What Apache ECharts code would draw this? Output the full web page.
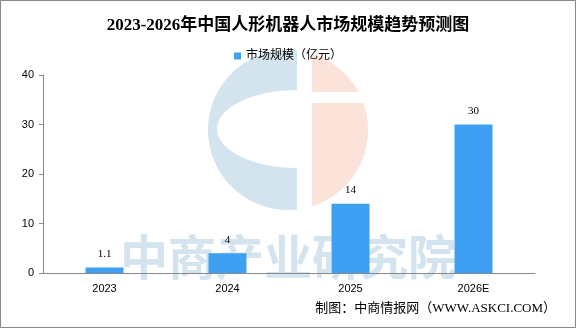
<!DOCTYPE html>
<html>
<head>
<meta charset="utf-8">
<script src="https://cdn.jsdelivr.net/npm/echarts@6/dist/echarts.min.js"></script>
<style>
  body { margin: 0; background: #fff; }
  #main { width: 576px; height: 328px; }
</style>
</head>
<body>
<div id="main"></div>
<script>
var years = ['2023', '2024', '2025', '2026E'];
var marketSize = [1.1, 4, 14, 30];
var seriesName = '市场规模（亿元）';

var chart = echarts.init(document.getElementById('main'));

var cjk = '"Liberation Serif", "Noto Sans CJK SC", serif';
var sans = '"Liberation Sans", "Noto Sans CJK SC", sans-serif';

// watermark logo: part of a circle cut by a vertical line
function circlePart(cx, cy, r, cutX, side) {
    var pts = [];
    var a0 = Math.acos((cutX - cx) / r);
    // side 1 = right part, -1 = left part
    var start = side > 0 ? -a0 : a0;
    var end = side > 0 ? a0 : 2 * Math.PI - a0;
    for (var i = 0; i <= 60; i++) {
        var a = start + (end - start) * i / 60;
        pts.push([cx + r * Math.cos(a), cy + r * Math.sin(a)]);
    }
    return pts;
}

var option = {
    backgroundColor: '#fff',
    animation: false,
    title: {
        text: '2023-2026年中国人形机器人市场规模趋势预测图',
        left: 'center',
        top: 12,
        textStyle: { fontSize: 17, fontWeight: 'bold', color: '#000', fontFamily: cjk }
    },
    legend: {
        data: [seriesName],
        top: 45,
        left: 'center',
        itemWidth: 7,
        itemHeight: 7,
        itemGap: 4,
        icon: 'rect',
        textStyle: { fontSize: 12, color: '#000', fontFamily: sans }
    },
    grid: { left: 43, right: 41, top: 75, bottom: 55 },
    xAxis: {
        type: 'category',
        data: years,
        axisLine: { lineStyle: { color: '#888' } },
        axisTick: { inside: true, length: 4, lineStyle: { color: '#888' } },
        axisLabel: { color: '#000', fontSize: 11, margin: 10, fontFamily: sans }
    },
    yAxis: {
        type: 'value',
        min: 0,
        max: 40,
        interval: 10,
        axisLine: { show: true, lineStyle: { color: '#888' } },
        axisTick: { show: true, length: 4, lineStyle: { color: '#888' } },
        splitLine: { show: false },
        axisLabel: { color: '#000', fontSize: 11, margin: 9, fontFamily: sans }
    },
    graphic: {
        z: -10,
        elements: [
            // watermark
            { type: 'polygon', z: -10, shape: { points: circlePart(288, 130, 80, 297, -1) }, style: { fill: '#d3e4ee' } },
            { type: 'ellipse', z: -9, shape: { cx: 297, cy: 129, rx: 80, ry: 39 }, style: { fill: '#fff' } },
            { type: 'polygon', z: -8, shape: { points: circlePart(288, 130, 80, 312, 1) }, style: { fill: '#fbe3d9' } },
            { type: 'rect', z: -7, shape: { x: 305, y: 92, width: 70, height: 11 }, style: { fill: '#fff' } },
            { type: 'text', z: -6, x: 288, y: 257, style: { text: '中商产业研究院', fill: '#d3e4ee', font: 'bold 48px "Noto Sans CJK SC"', textAlign: 'center', textVerticalAlign: 'middle' } },
            // source + frame
            { type: 'text', z: -5, right: 20, top: 302, style: { text: '制图：中商情报网（WWW.ASKCI.COM）', fill: '#000', font: '13px ' + cjk } },
            { type: 'rect', z: -5, shape: { x: 0.5, y: 0.5, width: 575, height: 327 }, style: { fill: 'none', stroke: '#888', lineWidth: 1 } }
        ]
    },
    series: [
        {
            name: seriesName,
            type: 'bar',
            data: marketSize,
            barWidth: 38,
            itemStyle: { color: '#3f9ff3' },
            label: {
                show: true,
                position: 'top',
                distance: 8,
                color: '#000',
                fontSize: 11,
                fontFamily: cjk
            }
        }
    ]
};

chart.setOption(option);
</script>
</body>
</html>
